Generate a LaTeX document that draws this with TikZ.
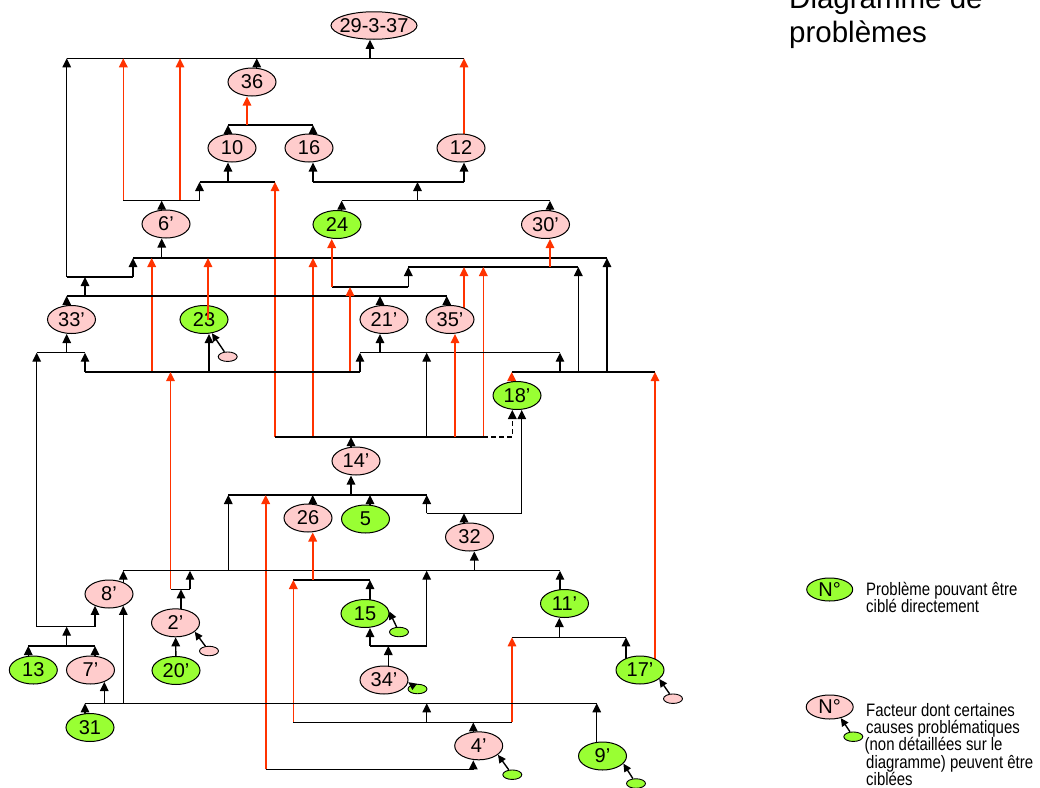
\documentclass[tikz,border=0pt]{standalone}
\usepackage{fontspec}
\setmainfont{Liberation Sans}
\newfontfamily\lgfont[FakeStretch=0.83]{Liberation Sans}
\usetikzlibrary{shapes.geometric,arrows.meta,backgrounds}
\definecolor{pinkc}{RGB}{255,204,204}
\definecolor{greenc}{RGB}{153,255,51}
\definecolor{redc}{RGB}{255,51,0}
\newcommand\ndfont{\fontsize{20}{23}\selectfont}
\newcommand\titfont{\fontsize{29.5}{34}\selectfont}
\newcommand\legtxt{\lgfont\fontsize{18}{18}\selectfont}
\begin{document}
\begin{tikzpicture}[x=1pt,y=-1pt,
  el/.style={ellipse, draw, line width=1pt, minimum width=48pt, minimum height=28pt, inner sep=0pt, font=\ndfont},
  pk/.style={el, fill=pinkc},
  gr/.style={el, fill=greenc},
  sm/.style={ellipse, draw, line width=0.9pt, minimum width=19pt, minimum height=9.5pt, inner sep=0pt},
  lg/.style={minimum width=46pt, minimum height=23pt, font=\ndfont},
  ln/.style={line width=1.4pt, black},
  arr/.style={ln, -{Triangle[length=9pt,width=8.5pt]}},
  sarr/.style={line width=1.4pt, black, -{Triangle[length=8pt,width=7.5pt]}},
  rln/.style={line width=1.6pt, redc},
  rarr/.style={rln, -{Triangle[length=9pt,width=8.5pt]}},
  txt/.style={anchor=base west, inner sep=0pt}
]
\useasboundingbox (0,0) rectangle (1040,787);

% ---------- nodes ----------
\node[pk, minimum width=86pt, minimum height=27.5pt, inner xsep=-4.5pt] (N29) at (374,25.5) {29-3-37};
\node[pk] (N36) at (252,82) {36};
\node[pk] (N10) at (232,148) {10};
\node[pk] (N16) at (309,148) {16};
\node[pk] (N12) at (461,148) {12};
\node[pk] (N6)  at (166,224) {6’};
\node[gr] (N24) at (337,224.5) {24};
\node[pk] (N30) at (545.5,224.5) {30’};
\node[pk] (N33) at (71.5,319.5) {33’};
\node[gr] (N23) at (204,319.5) {23};
\node[pk] (N21) at (384,319.5) {21’};
\node[pk] (N35) at (450,319.5) {35’};
\node[gr] (N18) at (517,395.5) {18’};
\node[pk] (N14) at (356,461) {14’};
\node[pk] (N26) at (308,518) {26};
\node[gr] (N5)  at (365.5,519) {5};
\node[pk] (N32) at (469.5,537) {32};
\node[pk] (N8)  at (109,594) {8’};
\node[pk] (N2)  at (175.5,622.8) {2’};
\node[gr] (N15) at (365,613.5) {15};
\node[gr] (N11) at (564.5,603.5) {11’};
\node[gr] (N13) at (33.3,670) {13};
\node[pk] (N7)  at (90.5,670) {7’};
\node[gr] (N20) at (176,670.5) {20’};
\node[pk] (N34) at (384,680) {34’};
\node[gr] (N17) at (640,670) {17’};
\node[gr] (N31) at (90,727.5) {31};
\node[pk] (N4)  at (478.7,745.8) {4’};
\node[gr] (N9)  at (602.5,756) {9’};

% small cause ellipses
\node[sm, fill=pinkc]  (S23) at (227.7,356.7) {};
\node[sm, fill=pinkc]  (S2)  at (209,651) {};
\node[sm, fill=greenc] (S15) at (399,632) {};
\node[sm, fill=greenc] (S34) at (417.5,689) {};
\node[sm, fill=pinkc]  (S17) at (673,698.7) {};
\node[sm, fill=greenc] (S4)  at (512.3,774.7) {};
\node[sm, fill=greenc] (S9)  at (636,783.5) {};

% title
\node[txt, font=\titfont] (tit1) at (789,8.3) {Diagramme de};
\node[txt, font=\titfont] (tit2) at (789,42.7) {problèmes};

% legend
\node[gr, lg] (legG) at (829.7,589.5) {N°};
\node[pk, lg, minimum width=47pt, minimum height=24pt] (legP) at (829.7,707) {N°};
\node[sm, fill=greenc] (legS) at (853.3,736.7) {};
\node[txt, font=\legtxt] (lt1) at (866,595) {Problème pouvant être};
\node[txt, font=\legtxt] (lt2) at (866,612.7) {ciblé directement};
\node[txt, font=\legtxt] (lt3) at (866,716.3) {Facteur dont certaines};
\node[txt, font=\legtxt] (lt4) at (866,733.6) {causes problématiques};
\node[txt, font=\legtxt] (lt5) at (864.5,750.9) {(non détaillées sur le};
\node[txt, font=\legtxt] (lt6) at (866,768.2) {diagramme) peuvent être};
\node[txt, font=\legtxt] (lt7) at (866,785.3) {ciblées};

% ---------- junction coordinates ----------
\coordinate (t1) at (66.7,58.3);  \coordinate (t2) at (123.3,58.3); \coordinate (t3) at (180,58.3);
\coordinate (t4) at (256.7,58.3); \coordinate (t5) at (370,58.3);   \coordinate (t6) at (464,58.3);
\coordinate (a1) at (228,125); \coordinate (a2) at (247,125); \coordinate (a3) at (313,125);
\coordinate (b1) at (199.5,182); \coordinate (b2) at (228,182); \coordinate (b3) at (275,182);
\coordinate (b4) at (313,182); \coordinate (b5) at (417.5,182); \coordinate (b6) at (464,182);
\coordinate (c1) at (123.3,200.7); \coordinate (c2) at (161.7,200.7); \coordinate (c3) at (180,200.7); \coordinate (c4) at (199.5,200.7);
\coordinate (d1) at (341.7,200.7); \coordinate (d2) at (417.5,200.7); \coordinate (d3) at (550,200.7);
\coordinate (e1) at (133,258); \coordinate (e2) at (151.7,258); \coordinate (e3) at (161.7,258);
\coordinate (e4) at (208,258); \coordinate (e5) at (313,258); \coordinate (e7) at (607,258);
\coordinate (f1) at (66.7,277); \coordinate (f2) at (85,277); \coordinate (f3) at (133,277);
\coordinate (g1) at (66.7,296); \coordinate (g2) at (85,296); \coordinate (g3) at (380,296); \coordinate (g4) at (446.7,296);
\coordinate (h1) at (331.7,287); \coordinate (h2) at (350,287); \coordinate (h3) at (408.3,287);
\coordinate (i1) at (408.3,267); \coordinate (i2) at (464,267); \coordinate (i3) at (483.3,267);
\coordinate (i4) at (550,267); \coordinate (i5) at (578.3,267);
\coordinate (k1) at (85,372); \coordinate (k2) at (151.7,372); \coordinate (k3) at (170.5,372);
\coordinate (k4) at (209,372); \coordinate (k5) at (350,372); \coordinate (k7) at (360,372);
\coordinate (l1) at (36.7,352.7); \coordinate (l2) at (66.7,352.7); \coordinate (l3) at (85,352.7);
\coordinate (o1) at (360,352.7); \coordinate (o2) at (380,352.7); \coordinate (o3) at (426.7,352.7); \coordinate (o4) at (560,352.7);
\coordinate (r1) at (511.7,372); \coordinate (r2) at (560,372); \coordinate (r3) at (578.3,372);
\coordinate (r4) at (607,372); \coordinate (r5) at (655,372);
\coordinate (s1) at (275,437); \coordinate (s2) at (313,437); \coordinate (s3) at (351,437);
\coordinate (s4) at (426.7,437); \coordinate (s5) at (455,437); \coordinate (s7) at (483.3,437); \coordinate (dd) at (512.3,437);
\coordinate (v1) at (228.3,495); \coordinate (v2) at (265.7,495); \coordinate (v3) at (312.7,495);
\coordinate (v4) at (351,495); \coordinate (v5) at (370,495); \coordinate (v6) at (426.7,495);
\coordinate (x1) at (426.7,513.3); \coordinate (x2) at (464,513.3); \coordinate (x3) at (521.7,513.3);
\coordinate (w0) at (123.3,570.7); \coordinate (w1) at (228.3,570.7); \coordinate (w2) at (190,570.7);
\coordinate (w3) at (426.7,570.7); \coordinate (w4) at (474.3,570.7); \coordinate (w5) at (560,570.7);
\coordinate (m1) at (170.5,589.3); \coordinate (m2) at (181,589.3); \coordinate (m3) at (190,589.3);
\coordinate (u1) at (293.3,580); \coordinate (u2) at (312.7,580); \coordinate (u3) at (370,580);
\coordinate (q1) at (370,646); \coordinate (q2) at (388.3,646); \coordinate (q3) at (426.7,646);
\coordinate (p1) at (512,637.3); \coordinate (p2) at (559.3,637.3); \coordinate (p3) at (626,637.3);
\coordinate (L1) at (85,703.3); \coordinate (L2) at (104.3,703.3); \coordinate (L3) at (123.3,703.3);
\coordinate (L4) at (426.7,703.3); \coordinate (L5) at (596.7,703.3);
\coordinate (y1) at (293.3,722.3); \coordinate (y2) at (426.7,722.3); \coordinate (y4) at (473.3,722.3); \coordinate (y3) at (512,722.3);
\coordinate (z1) at (265.7,769.3); \coordinate (z2) at (473.3,769.3);
\coordinate (j1) at (36.7,626.7); \coordinate (j2) at (66.7,626.7); \coordinate (j3) at (95,626.7);
\coordinate (n1) at (28.3,646); \coordinate (n2) at (66.7,646); \coordinate (n3) at (95,646);

% ---------- connectors ----------
\begin{scope}[on background layer]
\draw[ln] (t1) -- (t6);
\draw[arr] (t5) -- (t5 |- N29.south);
\draw[arr] (t4 |- N36.center) -- (t4);
\draw[rarr] (t6 |- N12.center) -- (t6);
\draw[rarr] (c1) -- (t2);
\draw[rarr] (c3) -- (t3);
\draw[arr] (f1) -- (t1);

\draw[ln] (a1) -- (a3);
\draw[arr] (a1 |- N10.center) -- (a1);
\draw[arr] (a3 |- N16.center) -- (a3);
\draw[rarr] (a2) -- (a2 |- N36.south);

\draw[ln] (b1) -- (b3);
\draw[arr] (b2) -- (b2 |- N10.south);
\draw[arr] (c4) -- (b1);
\draw[rarr] (s1) -- (b3);

\draw[ln] (b4) -- (b6);
\draw[arr] (b4) -- (b4 |- N16.south);
\draw[arr] (b6) -- (b6 |- N12.south);
\draw[arr] (d2) -- (b5);

\draw[ln] (c1) -- (c4);
\draw[arr] (c2 |- N6.center) -- (c2);

\draw[ln] (d1) -- (d3);
\draw[arr] (d1 |- N24.center) -- (d1);
\draw[arr] (d3 |- N30.center) -- (d3);

\draw[ln] (e1) -- (e7);
\draw[arr] (e3) -- (e3 |- N6.south);
\draw[arr] (f3) -- (e1);
\draw[rarr] (k2) -- (e2);
\draw[rarr] (s2) -- (e5);
\draw[arr] (r4) -- (e7);

\draw[ln] (f1) -- (f3);
\draw[arr] (g2) -- (f2);

\draw[ln] (g1) -- (g4);
\draw[arr] (g1 |- N33.center) -- (g1);
\draw[arr] (g3 |- N21.center) -- (g3);
\draw[arr] (g4 |- N35.center) -- (g4);

\draw[ln] (h1) -- (h3);
\draw[rarr] (h1) -- (h1 |- N24.south);
\draw[rarr] (k5) -- (h2);
\draw[arr] (h3) -- (i1);

\draw[ln] (i1) -- (i5);
\draw[rarr] (i2 |- N35.center) -- (i2);
\draw[rarr] (s7) -- (i3);
\draw[rarr] (i4) -- (i4 |- N30.south);
\draw[arr] (r3) -- (i5);

\draw[ln] (k1) -- (k7);
\draw[arr] (k1) -- (l3);
\draw[rarr] (m1) -- (k3);
\draw[arr] (k4) -- (k4 |- N23.south);
\draw[arr] (k7) -- (o1);

\draw[ln] (l1) -- (l3);
\draw[arr] (l2) -- (l2 |- N33.south);
\draw[arr] (j1) -- (l1);

\draw[ln] (o1) -- (o4);
\draw[arr] (o2) -- (o2 |- N21.south);
\draw[arr] (s4) -- (o3);
\draw[arr] (r2) -- (o4);

\draw[ln] (r1) -- (r5);
\draw[rarr] (r1 |- N18.center) -- (r1);
\draw[rarr] (r5 |- N17.center) -- (r5);

\draw[ln] (s1) -- (s7);
\draw[arr] (s3 |- N14.center) -- (s3);
\draw[rarr] (s5) -- (s5 |- N35.south);
\draw[arr, dash pattern=on 5pt off 3pt] (s7) -- (dd) -- (dd |- N18.south);

\draw[ln] (v1) -- (v6);
\draw[arr] (v4) -- (v4 |- N14.south);
\draw[arr] (v3 |- N26.center) -- (v3);
\draw[arr] (v5 |- N5.center) -- (v5);
\draw[arr] (w1) -- (v1);
\draw[rarr] (z1) -- (v2);
\draw[arr] (x1) -- (v6);

\draw[ln] (x1) -- (x3);
\draw[arr] (x2 |- N32.center) -- (x2);
\draw[arr] (x3) -- (x3 |- N18.south);

\draw[ln] (w0) -- (w5);
\draw[arr] (w0 |- N8.center) -- (w0);
\draw[arr] (m3) -- (w2);
\draw[arr] (q3) -- (w3);
\draw[arr] (w4) -- (w4 |- N32.south);
\draw[arr] (w5 |- N11.center) -- (w5);

\draw[ln] (m1) -- (m3);
\draw[arr] (m2 |- N2.center) -- (m2);

\draw[ln] (u1) -- (u3);
\draw[rarr] (u2) -- (u2 |- N26.south);
\draw[arr] (u3 |- N15.center) -- (u3);
\draw[rarr] (y1) -- (u1);

\draw[ln] (q1) -- (q3);
\draw[arr] (q1) -- (q1 |- N15.south);
\draw[arr] (q2 |- N34.center) -- (q2);

\draw[ln] (p1) -- (p3);
\draw[arr] (p2) -- (p2 |- N11.south);
\draw[arr] (p3 |- N17.center) -- (p3);
\draw[rarr] (y3) -- (p1);

\draw[ln] (L1) -- (L5);
\draw[arr] (L1 |- N31.center) -- (L1);
\draw[arr, shorten >=-2.5pt] (L2) -- (L2 |- N7.south);
\draw[arr, shorten >=-2.7pt] (L3) -- (L3 |- N8.south);
\draw[arr] (y2) -- (L4);
\draw[arr] (L5 |- N9.center) -- (L5);

\draw[ln] (y1) -- (y3);
\draw[arr] (y4 |- N4.center) -- (y4);

\draw[ln] (z1) -- (z2);
\draw[arr] (z2) -- (z2 |- N4.south);

\draw[ln] (j1) -- (j3);
\draw[arr, shorten >=-2.6pt] (j3) -- (j3 |- N8.south);
\draw[arr] (n2) -- (j2);

\draw[ln] (n1) -- (n3);
\draw[arr] (n1 |- N13.center) -- (n1);
\draw[arr] (n3 |- N7.center) -- (n3);

\draw[arr] (N20) -- (N2);
\end{scope}

% on top of nodes
\draw[rarr] (e4 |- N23.center) -- (e4);
\draw[sarr] (S23) -- (N23.-60);
\draw[sarr] (S2) -- (N2.-25);
\draw[sarr] (S15) -- (N15.5);
\draw[sarr] (S34) -- (N34.-5);
\draw[sarr] (S17) -- (N17.-25);
\draw[sarr] (S4) -- (N4.-25);
\draw[sarr] (S9) -- (N9.-20);
\draw[sarr] (legS) -- (legP.-45);
\end{tikzpicture}
\end{document}
